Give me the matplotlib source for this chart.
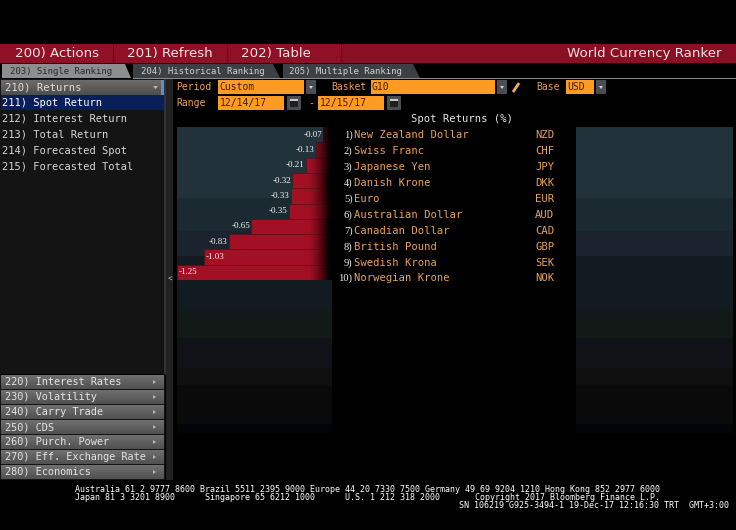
import numpy as np
import matplotlib
matplotlib.use("Agg")
import matplotlib.pyplot as plt
from matplotlib.colors import LinearSegmentedColormap as LSC
from matplotlib.patches import Rectangle, Polygon

# ---------- data ----------
currencies = ["New Zealand Dollar", "Swiss Franc", "Japanese Yen", "Danish Krone", "Euro",
              "Australian Dollar", "Canadian Dollar", "British Pound", "Swedish Krona", "Norwegian Krone"]
codes = ["NZD", "CHF", "JPY", "DKK", "EUR", "AUD", "CAD", "GBP", "SEK", "NOK"]
spot_returns = [-0.07, -0.13, -0.21, -0.32, -0.33, -0.35, -0.65, -0.83, -1.03, -1.25]
top_buttons = ["200) Actions", "201) Refresh", "202) Table"]
tabs = ["203) Single Ranking", "204) Historical Ranking", "205) Multiple Ranking"]
menu_top = ["211) Spot Return", "212) Interest Return", "213) Total Return",
            "214) Forecasted Spot", "215) Forecasted Total"]
menu_bottom = ["220) Interest Rates", "230) Volatility", "240) Carry Trade", "250) CDS",
               "260) Purch. Power", "270) Eff. Exchange Rate", "280) Economics"]

W, H = 736, 530
MONO = "DejaVu Sans Mono"
ORANGE = "#e8a05a"
FIELD = "#ff9a22"
fig = plt.figure(figsize=(W / 100, H / 100), dpi=100, facecolor="black")
ui = fig.add_axes([0, 0, 1, 1], zorder=0)
ui.set_xlim(0, W); ui.set_ylim(H, 0); ui.axis("off")


def rect(x0, y0, x1, y1, c, z=1):
    ui.add_patch(Rectangle((x0, y0), x1 - x0, y1 - y0, fc=c, ec="none", zorder=z))


def grad(x0, y0, x1, y1, colors, z=1):
    cm = LSC.from_list("g", colors)
    ui.imshow(np.linspace(0, 1, 256)[:, None], extent=(x0, x1, y1, y0), cmap=cm, aspect="auto",
              origin="upper", zorder=z, interpolation="bilinear")


def txt(x, y, s, c="#e8e8e8", size=7.6, ha="left", fam=MONO, **kw):
    ui.text(x, y, s, color=c, fontsize=size, ha=ha, va="center", family=fam, zorder=5, **kw)


def arrow_btn(x0, y0, x1, y1):
    rect(x0, y0, x1, y1, "#4a4e52", 2)
    cx, cy = (x0 + x1) / 2, (y0 + y1) / 2
    ui.add_patch(Polygon([(cx - 2, cy - 1), (cx + 2, cy - 1), (cx, cy + 2)], fc="#d0d0d0", ec="none", zorder=3))


# ---------- header ----------
rect(0, 44, W, 63, "#8a0e24", 1)
rect(0, 44, 341, 63, "#920f28", 1)
for x in (113, 227, 341):
    rect(x, 44, x + 1, 63, "#50060f", 2)
for s, x in zip(top_buttons, (57, 170, 276)):
    txt(x, 53.5, s, size=9.6, ha="center", fam="DejaVu Sans", c="#f0e4e4")
txt(722, 54, "World Currency Ranker", size=9.6, ha="right", fam="DejaVu Sans", c="#f0e4e4")

# ---------- tabs ----------
rect(133, 78, W, 79, "#8a8a8a", 1)
ui.add_patch(Polygon([(2, 64), (125, 64), (131, 78), (2, 78)], fc="#8c8e90", ec="none", zorder=2))
ui.add_patch(Polygon([(133, 64), (273, 64), (280, 78), (133, 78)], fc="#3c4044", ec="none", zorder=2))
ui.add_patch(Polygon([(283, 64), (413, 64), (420, 78), (283, 78)], fc="#3c4044", ec="none", zorder=2))
txt(10, 71, tabs[0], c="#2a2a2a", size=6.5)
txt(141, 71, tabs[1], c="#d0d0d0", size=6.5)
txt(289, 71, tabs[2], c="#d0d0d0", size=6.5)

# ---------- sidebar ----------
rect(0, 79, 165, 480, "#141414", 1)
rect(164, 79, 166, 375, "#333333", 2)
rect(166, 79, 173, 480, "#222222", 1)
txt(169.5, 279, "<", c="#b0b0b0", size=5.5, ha="center")
grad(1, 80, 161, 95, ["#6c6c6c", "#4c4c4c"], 2)
rect(161, 80, 164, 95, "#5b8fd0", 2)
txt(5, 87, "210) Returns", c="#dddddd")
rect(1, 95, 164, 110, "#0a1f58", 2)
for i, s in enumerate(menu_top):
    txt(2, 102.5 + 16 * i, s, c="#ffffff" if i == 0 else "#d8d8d8", size=7.5)
rect(0, 374, 165, 375, "#000000", 2)
for i, s in enumerate(menu_bottom):
    y = 375 + 15 * i
    grad(1, y, 164, y + 14, ["#707070", "#505050"], 2)
    txt(5, y + 7, s, c="#e4e4e4", size=7.4)
    ui.add_patch(Polygon([(153, y + 5), (153, y + 9), (156, y + 7)], fc="#b8b8b8", ec="none", zorder=3))
ui.add_patch(Polygon([(153, 86), (158, 86), (155.5, 89)], fc="#b8b8b8", ec="none", zorder=3))

# ---------- form row ----------
txt(176, 86.5, "Period", c=ORANGE, size=7)
rect(218, 80, 304, 94, FIELD, 2); txt(219, 87, "Custom", c="#3a2000", size=7)
arrow_btn(306, 80, 316, 94)
txt(331, 86.5, "Basket", c=ORANGE, size=7)
rect(371, 80, 495, 94, FIELD, 2); txt(372, 87, "G10", c="#3a2000", size=7)
arrow_btn(497, 80, 507, 94)
ui.plot([513, 519], [92, 83], color="#f0b050", lw=2, zorder=3, solid_capstyle="butt")
txt(536, 86.5, "Base", c=ORANGE, size=7)
rect(566, 80, 594, 94, FIELD, 2); txt(567, 87, "USD", c="#3a2000", size=7)
arrow_btn(596, 80, 606, 94)
txt(176, 102.5, "Range", c=ORANGE, size=7)
rect(218, 96, 284, 110, FIELD, 2); txt(220, 103, "12/14/17", c="#3a2000", size=7)
rect(287, 96, 301, 110, "#4a4e52", 2); rect(290, 99, 298, 107, "#202020", 3); rect(290, 99, 298, 101, "#c8c8c8", 3)
txt(308, 103, "-", c=ORANGE, size=7)
rect(318, 96, 384, 110, FIELD, 2); txt(320, 103, "12/15/17", c="#3a2000", size=7)
rect(387, 96, 401, 110, "#4a4e52", 2); rect(390, 99, 398, 107, "#202020", 3); rect(390, 99, 398, 101, "#c8c8c8", 3)
txt(462, 118.5, "Spot Returns (%)", c="#e4e4e4", size=7.6, ha="center")

# ---------- panels: stepped bands ----------
band_edges = [127, 198, 231, 256, 311, 338, 368, 385, 424, 433]
band_cols = ["#22323a", "#1b2931", "#1b232e", "#121a22", "#131917", "#111118", "#0f0f0f", "#0a0a0a", "#03030a"]
for x0, x1 in ((177, 332), (576, 733)):
    for y0, y1, c in zip(band_edges[:-1], band_edges[1:], band_cols):
        rect(x0, y0, x1, y1, c, 1)

# ---------- bars (real data axes) ----------
left, right, top, bottom = 177, 332, 127, 280
ax = fig.add_axes([left / W, 1 - bottom / H, (right - left) / W, (bottom - top) / H], zorder=2)
ax.patch.set_alpha(0)
ax.axis("off")
ypos = np.arange(len(spot_returns))
bars = ax.barh(ypos, spot_returns, height=1.0, color="#a31024", edgecolor="#5a0a14", linewidth=0.4)
fade = LSC.from_list("fade", [(0.64, 0.06, 0.14, 0), (0.3, 0.03, 0.07, 0.6), (0, 0, 0, 1)])
g = np.concatenate([np.zeros(212), np.linspace(0, 1, 40), np.ones(4)])[None, :]
ax.set_xlim(-1.25, 0); ax.set_ylim(len(ypos) - 0.5, -0.5)
for b in bars:
    im = ax.imshow(g, extent=(-1.25, 0, len(ypos) - 0.5, -0.5), cmap=fade, vmin=0, vmax=1,
                   aspect="auto", zorder=3, interpolation="bilinear")
    im.set_clip_path(b)
ax.set_xlim(-1.25, 0); ax.set_ylim(len(ypos) - 0.5, -0.5)
for y, v in zip(ypos, spot_returns):
    inside = v < -1
    xt = v + 0.015 if inside else v - 0.01
    ax.text(xt, y, f"{v:.2f}", color="#f4f4f4", fontsize=6.5, family="Liberation Serif",
            ha="left" if inside else "right", va="center", zorder=4)

# ---------- ranking table ----------
row_y = [135, 151, 167, 183, 199, 215, 231, 247, 263, 278]
for i, (name, code, y) in enumerate(zip(currencies, codes, row_y)):
    txt(352.5, y, f"{i + 1})", c="#f0f0f0", size=7.6, ha="right", fam="Liberation Serif")
    txt(354, y, name, c=ORANGE, size=7.6)
    txt(535, y, code, c=ORANGE, size=7.6)

# ---------- footer ----------
fkw = dict(c="#ffffff", size=6.0)
txt(75, 490, "Australia 61 2 9777 8600 Brazil 5511 2395 9000 Europe 44 20 7330 7500 Germany 49 69 9204 1210 Hong Kong 852 2977 6000", **fkw)
txt(75, 498, "Japan 81 3 3201 8900", **fkw)
txt(205, 498, "Singapore 65 6212 1000", **fkw)
txt(345, 498, "U.S. 1 212 318 2000", **fkw)
txt(475, 498, "Copyright 2017 Bloomberg Finance L.P.", **fkw)
txt(459, 506, "SN 106219 G925-3494-1 19-Dec-17 12:16:30 TRT  GMT+3:00", **fkw)

ui.set_xlim(0, W); ui.set_ylim(H, 0)
fig.savefig("out.png", dpi=100, facecolor="black")
